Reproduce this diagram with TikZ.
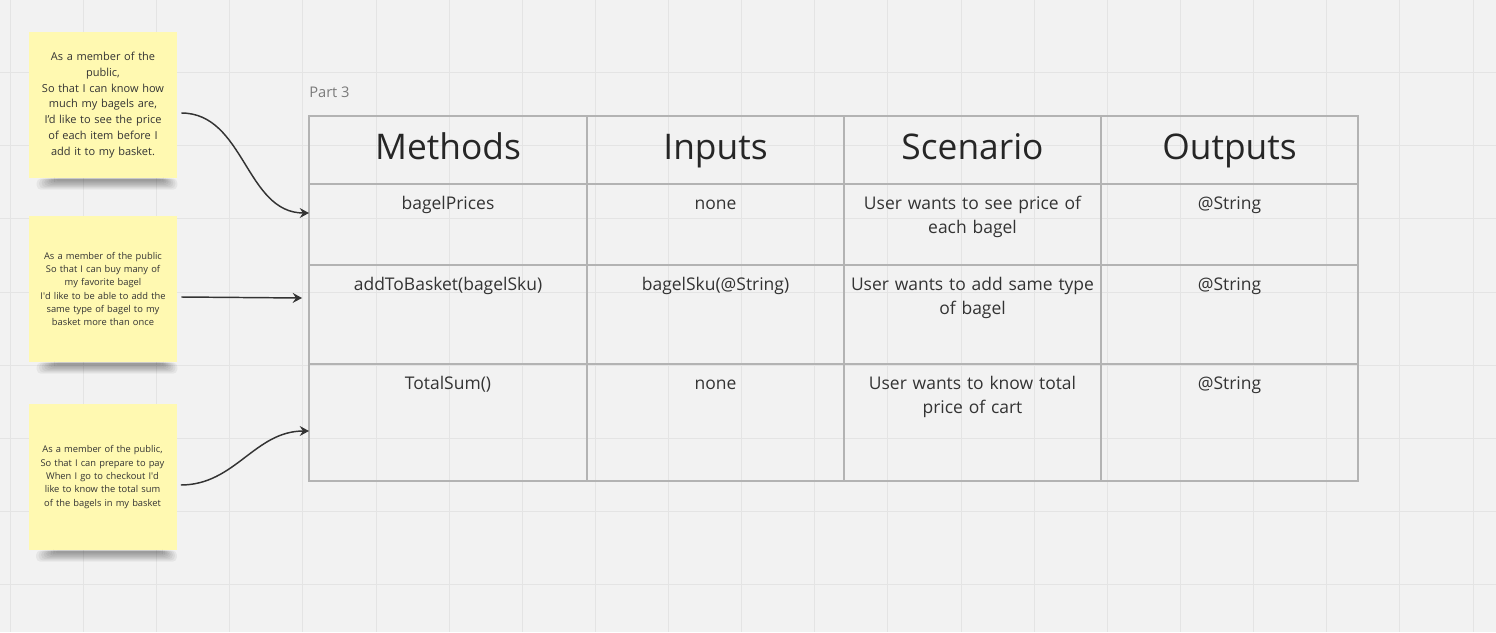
\documentclass[tikz,border=0pt]{standalone}
\usepackage{fontspec}
\setmainfont{Open Sans}
\usetikzlibrary{positioning,arrows.meta,calc}
\definecolor{board}{HTML}{F2F2F2}
\definecolor{gridgray}{HTML}{E4E4E4}
\definecolor{sticky}{HTML}{FFF9B1}
\definecolor{ink}{HTML}{333333}
\definecolor{rulegray}{HTML}{B3B3B3}
\definecolor{caption}{HTML}{7A7A7A}

\begin{document}
\begin{tikzpicture}[x=0.75pt, y=-0.75pt,
  gridline/.style={gridgray, line width=0.75pt},
  tableline/.style={rulegray, line width=0.85pt},
  story/.style={fill=sticky, minimum width=111pt, minimum height=110pt, text width=100pt, align=center, inner sep=0pt, text=ink},
  head/.style={anchor=base, inner sep=0pt, text=black!85, font=\fontsize{26.5}{32}\selectfont},
  cell/.style={anchor=north, inner sep=0pt, text width=190pt, align=center, text=ink, font=\fontsize{13.1}{18}\selectfont, execute at begin node=\strut},
  link/.style={ink, line width=1.1pt, -{Stealth[length=7pt, width=7.5pt, inset=2.5pt]}},
]

  \useasboundingbox (0,0) rectangle (1496,632);
  \fill[board] (0,0) rectangle (1496,632);
  \foreach \k in {0,...,20}
    \draw[gridline] ({10.4+73.13*\k},0) -- ++(0,632);
  \foreach \k in {1,...,8}
    \draw[gridline] (0,{-0.5+73.15*\k}) -- ++(1496,0);

  \node[anchor=base west, inner sep=0pt, text=caption, font=\fontsize{11}{13}\selectfont] (part) at (309,97.3) {Part 3};

  \draw[tableline] (309,116) rectangle (1358,481);
  \foreach \x in {587,844,1101}
    \draw[tableline] (\x,116) -- (\x,481);
  \foreach \y in {184,265,364}
    \draw[tableline] (309,\y) -- (1358,\y);

  \foreach \title/\cx [count=\c] in {Methods/448, Inputs/715.5, Scenario/972.5, Outputs/1229.5}
    \node[head] (head\c) at (\cx,159.5) {\title};

  \foreach \r/\top/\meth/\inp/\scen/\outp in {
    1/184/bagelPrices/none/{User wants to see price of\\ each bagel}/@String,
    2/265/addToBasket(bagelSku)/bagelSku(@String)/{User wants to add same type\\ of bagel}/@String,
    3/364/TotalSum()/none/{User wants to know total\\ price of cart}/@String
  } {
    \node[cell] (meth\r) at (448,\top+8.7) {\meth};
    \node[cell] (inp\r) at (715.5,\top+8.7) {\inp};
    \node[cell] (scen\r) at (972.5,\top+8.7) {\scen};
    \node[cell] (outp\r) at (1229.5,\top+8.7) {\outp};
  }

  \node[story, font=\fontsize{8.25}{11.85}\selectfont] (story1) at (103,105) {As a member of the\\ public,\\ So that I can know how\\ much my bagels are,\\ I’d like to see the price\\ of each item before I\\ add it to my basket.};
  \node[story, font=\fontsize{7}{10}\selectfont] (story2) at (103,289) {As a member of the public\\ So that I can buy many of\\ my favorite bagel\\ I\textquotesingle d like to be able to add the\\ same type of bagel to my\\ basket more than once};
  \node[story, font=\fontsize{7}{10}\selectfont] (story3) at (102.5,477) {As a member of the public,\\ So that I can prepare to pay\\ When I go to checkout I\textquotesingle d\\ like to know the total sum\\ of the bagels in my basket};

  \foreach \n in {story1,story2,story3}
    \foreach \k in {0,...,7}
      \fill[black, opacity=0.05, rounded corners=3pt] ([shift={(8+2.5*\k,0)}]\n.south west) rectangle ([shift={(-2*\k,11-1.2*\k)}]\n.south east);

  \coordinate (in1) at (309,213);
  \coordinate (in2) at (302,298);
  \coordinate (in3) at (309,431);
  \draw[link] ([shift={(4,8)}]story1.east) to[out=0, in=180] (in1);
  \draw[link] ([shift={(4,8)}]story2.east) -- (in2);
  \draw[link] ([shift={(4,8)}]story3.east) to[out=0, in=180] (in3);
\end{tikzpicture}
\end{document}
